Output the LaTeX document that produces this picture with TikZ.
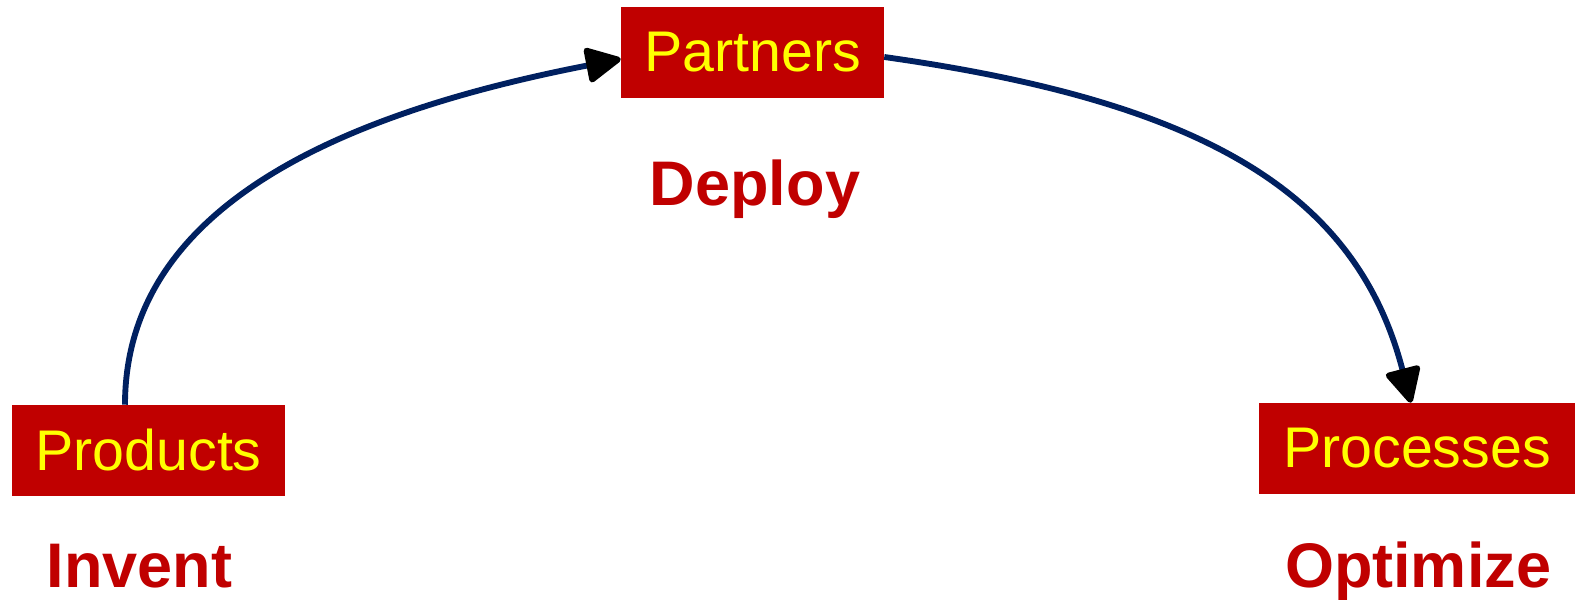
\documentclass[tikz,border=0pt]{standalone}
\usepackage{fontspec}
\setmainfont{Liberation Sans}
\usetikzlibrary{arrows.meta,calc}
\definecolor{boxred}{HTML}{C00000}
\definecolor{boxyellow}{HTML}{FFFF00}
\definecolor{arcnavy}{HTML}{002060}
\newdimen\pxu \pxu=0.75pt
\tikzset{
  stagebox/.style={fill=boxred, text=boxyellow, inner sep=0pt,
    minimum height=91\pxu, font=\fontsize{43pt}{50pt}\selectfont},
  verb/.style={text=boxred, inner sep=0pt, anchor=base,
    font=\fontsize{47.25pt}{56pt}\selectfont\bfseries},
  flow/.style={draw=arcnavy, line width=4.4pt,
    -{Triangle[length=29pt, width=28pt, round, color=black]}}
}
\begin{document}
\begin{tikzpicture}[x=0.75pt, y=-0.75pt]
  \useasboundingbox (0,0) rectangle (1575,600);

  % stage boxes
  \node[stagebox, minimum width=273\pxu] (products)  at (148.5,450.5) {Products};
  \node[stagebox, minimum width=263\pxu] (partners)  at (752.5,52.5)  {Partners};
  \node[stagebox, minimum width=316\pxu] (processes) at (1417,448.5)  {Processes};

  % stage verbs
  \node[verb] (invent)   at (139.5,587) {Invent};
  \node[verb] (deploy)   at (755,205)   {Deploy};
  \node[verb] (optimize) at (1418,587)  {Optimize};

  % curved flow arrows
  \draw[flow] ($(products.north)+(-23.5,0)$)
    .. controls +(0,-200) and +(-275,53.5) .. ($(partners.west)+(0,6.5)$);
  \draw[flow] ($(partners.east)+(0,4.5)$)
    .. controls +(320,45) and +(-54.4,-210) .. ($(processes.north)+(-6,0)$);
\end{tikzpicture}
\end{document}
